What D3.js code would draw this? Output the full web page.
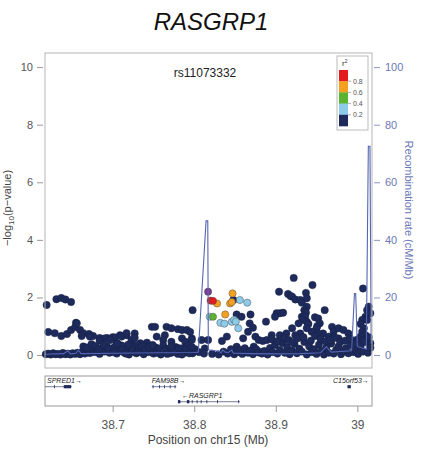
<!DOCTYPE html>
<html>
<head>
<meta charset="utf-8">
<script src="https://cdn.jsdelivr.net/npm/d3@7"></script>
<style>
  body { margin: 0; background: #fff; }
  svg { display: block; font-family: "Liberation Sans", Arial, sans-serif; }
</style>
</head>
<body>
<div id="chart"></div>
<script>
// navy snps (r2 < 0.2): [position Mb, -log10 p]
var navyPoints = [
  [38.619,1.74],[38.631,1.94],[38.637,1.98],[38.642,1.93],[38.649,1.84],
  [38.621,0.80],[38.629,0.76],[38.637,0.66],[38.644,0.73],[38.649,0.87],[38.655,1.12],[38.654,0.97],
  [38.660,0.87],[38.664,0.76],[38.671,0.73],[38.676,0.66],[38.684,0.59],[38.693,0.59],[38.700,0.62],
  [38.709,0.69],[38.672,0.64],[38.690,0.58],[38.703,0.61],[38.711,0.64],[38.717,0.69],[38.727,0.75],
  [38.723,0.52],[38.734,0.41],[38.748,0.98],[38.752,0.98],[38.754,0.64],[38.764,0.69],[38.766,0.98],
  [38.772,0.93],[38.780,0.90],[38.785,0.87],[38.791,0.87],[38.795,0.80],[38.785,0.58],[38.789,0.46],
  [38.772,0.46],[38.762,0.52],[38.798,1.56],[38.797,0.58],[38.662,0.66],[38.656,1.10],[38.697,0.52],
  [38.684,0.50],[38.705,0.41],[38.742,0.43],[38.729,0.35],[38.717,0.76],[38.727,0.60],[38.797,0.52],
  [38.791,0.23],[38.809,0.52],[38.817,0.52],[38.813,0.23],
  [38.848,1.91],[38.852,1.41],[38.858,1.33],[38.869,1.41],[38.868,1.10],[38.872,0.95],[38.866,0.81],
  [38.888,1.16],[38.860,0.58],[38.840,0.64],[38.834,0.49],[38.875,0.64],[38.879,0.52],[38.884,0.49],
  [38.873,0.29],[38.852,0.29],[38.864,0.11],[38.881,0.11],[38.889,0.52],[38.895,0.69],
  [38.922,2.68],[38.945,2.43],[38.904,2.20],[38.915,2.12],[38.918,2.05],[38.920,2.03],[38.924,1.93],
  [38.930,1.91],[38.937,2.16],[38.938,1.97],[38.932,1.82],[38.938,1.68],[38.935,1.56],[38.937,1.47],
  [38.932,1.33],[38.936,1.33],[38.933,1.22],[38.928,1.10],[38.938,1.16],[38.940,1.08],[38.948,1.31],
  [38.952,1.27],[38.954,1.10],[38.951,1.01],[38.950,0.93],[38.960,1.56],[38.969,0.98],[38.971,0.81],
  [38.958,0.75],[38.952,0.75],[38.944,0.81],[38.938,0.93],[38.930,0.75],[38.924,0.69],[38.920,0.93],
  [38.913,0.75],[38.905,0.69],[38.901,1.45],[38.905,1.45],[38.909,1.47],[38.899,1.33],
  [38.977,0.93],[38.983,0.87],[38.989,0.75],[38.965,0.64],[38.971,0.62],[38.977,0.58],
  [39.007,2.31],[39.014,1.68],[39.012,1.56],[39.016,1.45],[39.010,1.33],[39.006,1.22],[39.012,1.22],
  [39.004,1.08],[39.008,0.93],[39.006,0.81],[39.010,0.69],[39.004,0.64],[38.999,0.52],[39.012,0.52],
  [39.016,0.41],
  [38.618,0.03],[38.621,0.05],[38.624,0.02],[38.627,0.06],[38.630,0.03],[38.633,0.04],[38.636,0.02],
  [38.639,0.07],[38.642,0.03],[38.645,0.05],[38.648,0.02],[38.651,0.06],[38.654,0.04],[38.657,0.08],
  [38.660,0.03],[38.663,0.12],[38.666,0.05],[38.669,0.18],[38.672,0.07],[38.675,0.22],[38.678,0.10],
  [38.681,0.15],[38.684,0.04],[38.687,0.25],[38.690,0.12],[38.693,0.30],[38.696,0.08],[38.699,0.18],
  [38.702,0.27],[38.705,0.05],[38.708,0.14],[38.711,0.33],[38.714,0.09],[38.717,0.21],[38.720,0.02],
  [38.723,0.29],[38.726,0.12],[38.729,0.06],[38.732,0.24],[38.735,0.15],[38.738,0.03],[38.741,0.31],
  [38.744,0.10],[38.747,0.19],[38.750,0.05],[38.753,0.26],[38.756,0.13],[38.759,0.02],[38.762,0.34],
  [38.765,0.11],[38.768,0.22],[38.771,0.07],[38.774,0.17],[38.777,0.28],[38.780,0.04],[38.783,0.14],
  [38.786,0.24],[38.789,0.09],[38.792,0.32],[38.795,0.16],[38.798,0.06],[38.801,0.20],
  [38.664,0.30],[38.668,0.26],[38.674,0.38],[38.679,0.32],[38.683,0.20],[38.689,0.36],[38.695,0.22],
  [38.701,0.10],[38.706,0.40],[38.712,0.18],[38.716,0.05],[38.719,0.36],[38.724,0.15],[38.731,0.10],
  [38.736,0.30],[38.740,0.18],[38.745,0.28],[38.749,0.35],[38.754,0.08],[38.758,0.20],[38.763,0.14],
  [38.767,0.04],[38.772,0.30],[38.776,0.10],[38.781,0.24],[38.785,0.02],[38.790,0.18],[38.794,0.06],
  [38.797,0.28],
  [38.806,0.10],[38.812,0.05],[38.822,0.04],[38.830,0.02],[38.836,0.12],[38.841,0.05],[38.845,0.20],
  [38.849,0.03],[38.853,0.10],[38.856,0.18],[38.859,0.04],[38.862,0.24],[38.866,0.08],[38.869,0.15],
  [38.872,0.03],[38.876,0.20],[38.879,0.09],[38.883,0.05],[38.886,0.14],
  [38.890,0.02],[38.893,0.25],[38.896,0.10],[38.899,0.35],[38.902,0.05],[38.905,0.18],[38.908,0.42],
  [38.911,0.08],[38.914,0.28],[38.917,0.03],[38.920,0.15],[38.923,0.38],[38.926,0.06],[38.929,0.22],
  [38.932,0.12],[38.935,0.45],[38.938,0.02],[38.941,0.30],[38.944,0.10],[38.947,0.20],[38.950,0.04],
  [38.953,0.36],[38.956,0.14],[38.959,0.02],[38.962,0.26],[38.965,0.08],[38.968,0.40],[38.971,0.05],
  [38.974,0.18],[38.977,0.30],[38.980,0.03],[38.983,0.12],[38.986,0.24],[38.989,0.06],[38.992,0.35],
  [38.995,0.10],[38.998,0.20],[39.001,0.04],[39.004,0.30],[39.007,0.12],[39.010,0.45],[39.013,0.08],
  [39.016,0.25],
  [38.895,0.55],[38.902,0.48],[38.910,0.60],[38.916,0.52],[38.921,0.45],[38.927,0.58],[38.934,0.62],
  [38.943,0.50],[38.948,0.66],[38.955,0.55],[38.961,0.48],[38.967,0.52],[38.973,0.60],[38.979,0.45],
  [38.985,0.50],[38.991,0.58],[38.996,0.40],[39.002,0.55],[39.008,0.50],[39.014,0.62]
];

// ld-coloured snps: [position, -log10 p, r2 class]
var ldPoints = [
  [38.819,1.33,"lightblue"],[38.856,1.91,"lightblue"],[38.865,1.82,"lightblue"],[38.832,1.12,"lightblue"],
  [38.837,1.09,"lightblue"],[38.846,1.15,"lightblue"],[38.849,1.22,"lightblue"],[38.851,1.16,"lightblue"],
  [38.854,0.93,"lightblue"],
  [38.823,1.33,"green"],
  [38.828,1.79,"orange"],[38.847,2.14,"orange"],[38.844,1.79,"orange"],[38.846,1.84,"orange"],[38.838,1.41,"orange"],
  [38.820,1.89,"red"],[38.823,1.88,"red"]
];

var leadSnp = { name: "rs11073332", pos: 38.817, logp: 2.20 };

// recombination rate (cM/Mb)
var recombPos  = [38.617,38.640,38.645,38.648,38.655,38.658,38.661,38.700,38.760,38.800,38.805,
                  38.8145,38.8166,38.8173,38.830,38.833,38.835,38.838,38.842,38.846,38.848,38.851,
                  38.870,38.895,38.930,38.955,38.962,38.968,38.993,38.9965,38.998,39.0,39.011,
                  39.0135,39.0155,39.017];
var recombRate = [0.3,0.5,1.5,0.4,0.6,1.8,0.5,0.6,0.8,0.9,1.0,
                  46.6,46.6,1.8,1.3,0.8,1.8,1.0,0.9,1.7,0.6,0.6,
                  0.5,0.4,0.5,0.8,2.9,1.0,1.5,21.4,21.4,3.0,2.0,
                  72.5,72.5,4.0];

var ldClasses = ["red","orange","green","lightblue","navy"];
var ldColors  = { red: "#e41a1c", orange: "#f5a11f", green: "#5bb431", lightblue: "#8ccbea", navy: "#1d2a5b" };
var legendLabels = ["0.8","0.6","0.4","0.2"];

var yTicks  = [0, 2, 4, 6, 8, 10];
var yrTicks = [0, 20, 40, 60, 80, 100];
var xTicks  = [38.7, 38.8, 38.9, 39];

// genes
var geneNames  = ["SPRED1","FAM98B","RASGRP1","C15orf53"];
var geneStart  = [38.55, 38.748, 38.780, 38.988];
var geneEnd    = [38.650, 38.778, 38.856, 38.992];
var geneStrand = ["+","+","-","+"];
var geneRow    = [0, 0, 1, 0];
var geneExons  = [
  [[38.628,38.629],[38.640,38.649]],
  [[38.749,38.750],[38.757,38.758],[38.763,38.764],[38.770,38.771],[38.776,38.777]],
  [[38.780,38.783],[38.791,38.794],[38.797,38.798],[38.803,38.804],[38.808,38.809],[38.815,38.816],[38.828,38.829],[38.854,38.855]],
  [[38.988,38.992]]
];

var W = 423, H = 462;
var panel = { left: 45, right: 372, top: 53, bottom: 368 };
var genePanel = { top: 376, bottom: 406 };

var svg = d3.select("#chart").append("svg")
    .attr("width", W)
    .attr("height", H);

var x = d3.scaleLinear().domain([38.617, 39.018]).range([panel.left, panel.right]);
var y = d3.scaleLinear().domain([-0.45, 10.49]).range([panel.bottom, panel.top]);
var yr = d3.scaleLinear().domain([-4.5, 104.9]).range([panel.bottom, panel.top]);

// title
svg.append("text")
    .attr("x", 211).attr("y", 30)
    .attr("text-anchor", "middle")
    .style("font-size", "24px")
    .style("font-style", "italic")
    .style("fill", "#111")
    .text("RASGRP1");

// left axis
var yAxis = d3.axisLeft(y).tickValues(yTicks).tickSize(6).tickPadding(4);
var gy = svg.append("g")
    .attr("transform", "translate(" + (panel.left - 2) + ",0)")
    .call(yAxis);
gy.select(".domain").remove();
gy.selectAll("line").attr("stroke", "#999");
gy.selectAll("text").attr("fill", "#555").style("font-size", "11px");

// right axis
var yrAxis = d3.axisRight(yr).tickValues(yrTicks).tickSize(6).tickPadding(5);
var gyr = svg.append("g")
    .attr("transform", "translate(" + (panel.right + 2) + ",0)")
    .call(yrAxis);
gyr.select(".domain").remove();
gyr.selectAll("line").attr("stroke", "#8a95c6");
gyr.selectAll("text").attr("fill", "#6b78b8").style("font-size", "11px");

// axis titles
var leftTitle = svg.append("text")
    .attr("transform", "translate(11," + 208 + ") rotate(-90)")
    .attr("text-anchor", "middle")
    .style("font-size", "11px")
    .style("fill", "#444");
leftTitle.append("tspan").text("\u2212log");
leftTitle.append("tspan").attr("dy", 3).style("font-size", "8px").text("10");
leftTitle.append("tspan").attr("dy", -3).text("(p\u2212value)");

svg.append("text")
    .attr("transform", "translate(405," + 210 + ") rotate(90)")
    .attr("text-anchor", "middle")
    .style("font-size", "11px")
    .style("fill", "#6b78b8")
    .text("Recombination rate (cM/Mb)");

// points
var plot = svg.append("g");

plot.selectAll("circle.navy")
    .data(navyPoints)
    .enter().append("circle")
    .attr("class", "navy")
    .attr("cx", function (d) { return x(d[0]); })
    .attr("cy", function (d) { return y(d[1]); })
    .attr("r", 3.7)
    .attr("fill", ldColors.navy)
    .attr("stroke", "#17203f")
    .attr("stroke-width", 0.4);

plot.selectAll("circle.ld")
    .data(ldPoints)
    .enter().append("circle")
    .attr("class", "ld")
    .attr("cx", function (d) { return x(d[0]); })
    .attr("cy", function (d) { return y(d[1]); })
    .attr("r", 3.6)
    .attr("fill", function (d) { return ldColors[d[2]]; })
    .attr("stroke", "#555")
    .attr("stroke-width", 0.5);

plot.append("circle")
    .attr("cx", x(leadSnp.pos))
    .attr("cy", y(leadSnp.logp))
    .attr("r", 3.6)
    .attr("fill", "#7b3b8e")
    .attr("stroke", "#444")
    .attr("stroke-width", 0.5);

// recombination line
var recomb = recombPos.map(function (p, i) { return [p, recombRate[i]]; });
svg.append("path")
    .datum(recomb)
    .attr("fill", "none")
    .attr("stroke", "#5565b3")
    .attr("stroke-width", 1.1)
    .attr("d", d3.line()
        .x(function (d) { return x(d[0]); })
        .y(function (d) { return yr(d[1]); }));

// panel frame
svg.append("rect")
    .attr("x", panel.left).attr("y", panel.top)
    .attr("width", panel.right - panel.left)
    .attr("height", panel.bottom - panel.top)
    .attr("fill", "none")
    .attr("stroke", "#b5b5b5")
    .attr("stroke-width", 1);

// lead snp label
svg.append("text")
    .attr("x", 205).attr("y", 77)
    .attr("text-anchor", "middle")
    .style("font-size", "12px")
    .style("fill", "#222")
    .text(leadSnp.name);

// legend
var legend = svg.append("g");
legend.append("rect")
    .attr("x", 337).attr("y", 56)
    .attr("width", 31).attr("height", 74)
    .attr("fill", "#fff")
    .attr("stroke", "#aaa")
    .attr("stroke-width", 0.8);
var legY = d3.scaleBand().domain(ldClasses).range([70, 126]);
legend.selectAll("rect.key")
    .data(ldClasses)
    .enter().append("rect")
    .attr("class", "key")
    .attr("x", 339)
    .attr("y", function (d) { return legY(d); })
    .attr("width", 9)
    .attr("height", legY.bandwidth() + 0.3)
    .attr("fill", function (d) { return ldColors[d]; });
legend.selectAll("text.key")
    .data(legendLabels)
    .enter().append("text")
    .attr("class", "key")
    .attr("x", 353)
    .attr("y", function (d, i) { return legY(ldClasses[i + 1]) + 2.5; })
    .style("font-size", "7px")
    .style("fill", "#555")
    .text(function (d) { return d; });
legend.selectAll("line.key")
    .data(legendLabels)
    .enter().append("line")
    .attr("class", "key")
    .attr("x1", 348).attr("x2", 351)
    .attr("y1", function (d, i) { return legY(ldClasses[i + 1]); })
    .attr("y2", function (d, i) { return legY(ldClasses[i + 1]); })
    .attr("stroke", "#777")
    .attr("stroke-width", 0.6);
var r2 = legend.append("text")
    .attr("x", 342).attr("y", 66)
    .style("font-size", "8px")
    .style("fill", "#333");
r2.append("tspan").text("r");
r2.append("tspan").attr("dy", -3).style("font-size", "5px").text("2");

// gene panel
var genes = svg.append("g");
genes.append("rect")
    .attr("x", panel.left).attr("y", genePanel.top)
    .attr("width", panel.right - panel.left)
    .attr("height", genePanel.bottom - genePanel.top)
    .attr("fill", "none")
    .attr("stroke", "#999")
    .attr("stroke-width", 1);

var rowLineY = [386.7, 401.7];
var rowLabelY = [383, 398];
geneNames.forEach(function (name, i) {
    var gy0 = rowLineY[geneRow[i]];
    var x0 = Math.max(x(geneStart[i]), panel.left);
    var x1 = x(geneEnd[i]);
    genes.append("line")
        .attr("x1", x0).attr("x2", x1)
        .attr("y1", gy0).attr("y2", gy0)
        .attr("stroke", "#1d2a5b")
        .attr("stroke-width", 0.6);
    geneExons[i].forEach(function (e) {
        genes.append("rect")
            .attr("x", x(e[0]))
            .attr("y", gy0 - 1.6)
            .attr("width", Math.max(x(e[1]) - x(e[0]), 0.8))
            .attr("height", 3.2)
            .attr("fill", "#1d2a5b");
    });
    var label = geneStrand[i] === "+" ? name + "\u2192" : "\u2190" + name;
    var lx = geneStrand[i] === "+" ? Math.max(x0, panel.left + 2) : x0 + 4;
    if (name === "C15orf53") { lx = 333; }
    genes.append("text")
        .attr("x", lx)
        .attr("y", rowLabelY[geneRow[i]])
        .style("font-size", "7px")
        .style("font-style", "italic")
        .style("fill", "#222")
        .text(label);
});

// x axis
var xAxis = d3.axisBottom(x).tickValues(xTicks).tickSize(6).tickPadding(8)
    .tickFormat(function (d) { return d3.format("")(d); });
var gx = svg.append("g")
    .attr("transform", "translate(0," + genePanel.bottom + ")")
    .call(xAxis);
gx.select(".domain").remove();
gx.selectAll("line").attr("stroke", "#999");
gx.selectAll("text").attr("fill", "#555").style("font-size", "12px");

svg.append("text")
    .attr("x", 208).attr("y", 444)
    .attr("text-anchor", "middle")
    .style("font-size", "12px")
    .style("fill", "#444")
    .text("Position on chr15 (Mb)");
</script>
</body>
</html>
